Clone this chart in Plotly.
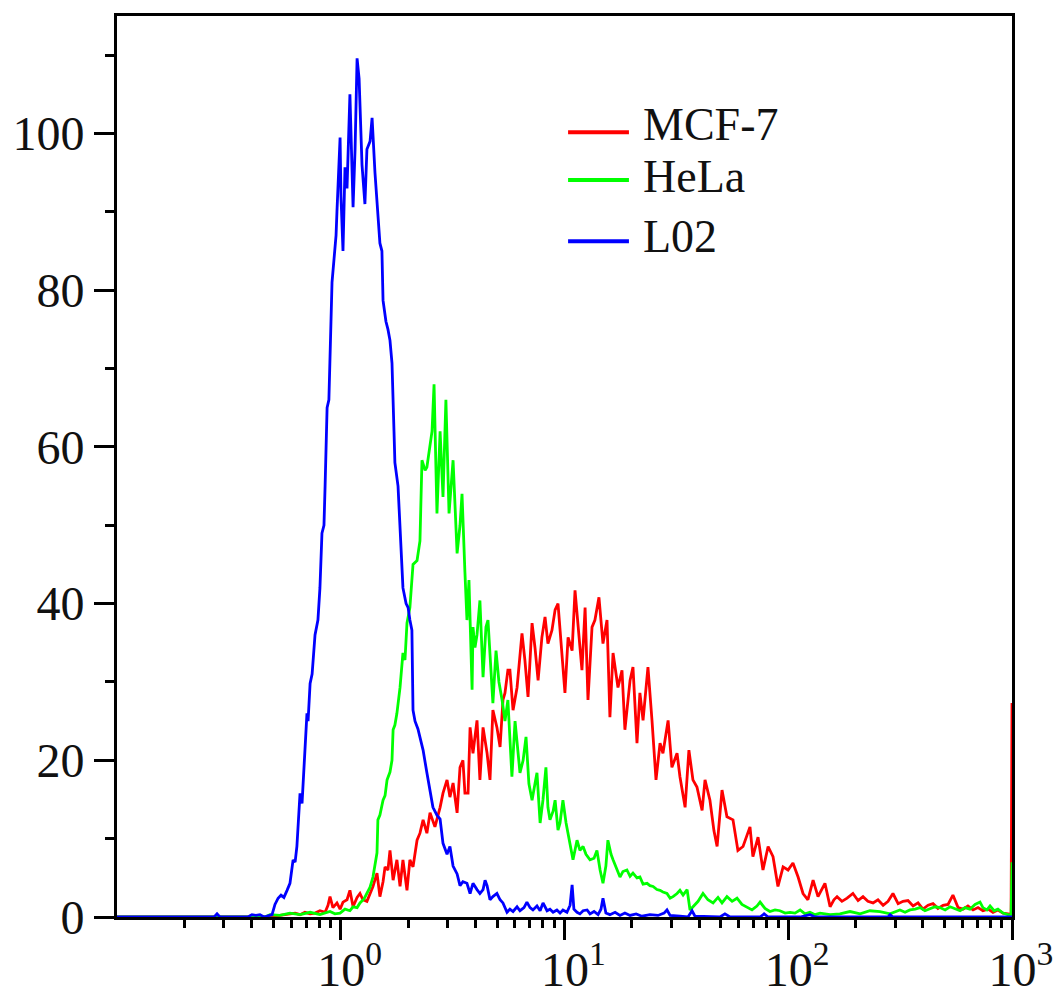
import numpy as np
import plotly.graph_objects as go

# ---------------- data (log10 fluorescence intensity, cell count) ----------------
series_names = ["MCF-7", "HeLa", "L02"]
series_colors = ["#ff0000", "#00ff00", "#0000ff"]

mcf7_logfl = [-1.000, -0.294, -0.272, -0.240, -0.204, -0.182, -0.160, -0.137, -0.115, -0.093,
              -0.070, -0.057, -0.048, -0.035, -0.017, -0.003, 0.010, 0.028, 0.041, 0.055,
              0.073, 0.086, 0.099, 0.117, 0.131, 0.144, 0.162, 0.175, 0.189, 0.198,
              0.211, 0.220, 0.234, 0.251, 0.265, 0.278, 0.296, 0.309, 0.323, 0.341,
              0.354, 0.368, 0.385, 0.399, 0.421, 0.444, 0.457, 0.475, 0.488, 0.502,
              0.520, 0.533, 0.546, 0.555, 0.569, 0.578, 0.591, 0.609, 0.622, 0.636,
              0.654, 0.667, 0.680, 0.698, 0.712, 0.725, 0.734, 0.747, 0.756, 0.770,
              0.788, 0.801, 0.810, 0.823, 0.837, 0.855, 0.868, 0.882, 0.899, 0.913,
              0.926, 0.944, 0.958, 0.971, 0.989, 1.002, 1.016, 1.034, 1.047, 1.060,
              1.078, 1.092, 1.105, 1.123, 1.136, 1.154, 1.172, 1.190, 1.203, 1.217,
              1.239, 1.257, 1.270, 1.293, 1.306, 1.324, 1.337, 1.351, 1.373, 1.391,
              1.409, 1.427, 1.440, 1.463, 1.480, 1.503, 1.516, 1.539, 1.556, 1.574,
              1.592, 1.615, 1.628, 1.650, 1.668, 1.682, 1.704, 1.726, 1.753, 1.775,
              1.798, 1.829, 1.842, 1.865, 1.887, 1.910, 1.932, 1.954, 1.977, 1.999,
              2.021, 2.044, 2.066, 2.088, 2.111, 2.133, 2.151, 2.164, 2.187, 2.204,
              2.218, 2.240, 2.263, 2.289, 2.312, 2.334, 2.356, 2.379, 2.401, 2.424,
              2.446, 2.468, 2.491, 2.513, 2.535, 2.558, 2.580, 2.602, 2.625, 2.647,
              2.669, 2.692, 2.714, 2.736, 2.759, 2.781, 2.803, 2.826, 2.848, 2.870,
              2.893, 2.915, 2.937, 2.960, 2.982, 2.996, 3.000]
mcf7_count = [0, 0, 0.2, 0.3, 0.5, 0.3, 0.6, 0.4, 0.5, 0.8,
              0.6, 1.5, 2.6, 1.2, 1.8, 1.0, 1.9, 2.2, 3.4, 1.3,
              2.5, 3.0, 2.2, 2.0, 3.0, 3.9, 5.6, 2.6, 4.5, 6.4,
              6.0, 8.5, 4.7, 7.3, 3.9, 7.3, 3.4, 7.3, 6.4, 9.8,
              10.7, 12.4, 10.7, 13.3, 11.5, 14, 15.8, 17.5, 15.3, 17.1,
              13.3, 19.1, 20, 15.8, 15.8, 24.2, 20.9, 25.1, 17.5, 24.2,
              20.9, 17.5, 26.4, 24.2, 21.7, 27.7, 28.6, 31.5, 31.5, 26.4,
              29.3, 33, 36.2, 32.8, 28.1, 37.5, 34.4, 30.2, 35.7, 38.3,
              34.9, 36.6, 39.2, 40, 33.7, 28.6, 35.7, 34, 41.7, 37,
              31.5, 39.5, 27.7, 37, 37.9, 40.8, 34.9, 37.9, 25.5, 33.7,
              29.3, 31.5, 23.9, 30.2, 31.9, 22.2, 28.6, 25.1, 31.9, 25.1,
              17.5, 22.2, 20.9, 25.1, 19.1, 20.9, 17.9, 14, 21.3, 17.5,
              16.6, 13.6, 17.5, 14.9, 11, 9, 16.2, 12.8, 12.4, 8.5,
              9, 11.5, 7.7, 10.2, 6, 9, 7.7, 3.9, 6.4, 6,
              6.9, 5.1, 3, 2.2, 4.7, 2.6, 3.5, 4.3, 1.3, 2.2,
              2.6, 2.0, 2.4, 3.0, 2.1, 2.6, 2.0, 1.8, 2.2, 1.5,
              2.0, 3.0, 1.7, 2.0, 2.1, 1.4, 1.8, 1.0, 1.5, 1.7,
              1.1, 1.5, 1.6, 2.8, 1.2, 1.0, 1.4, 0.9, 1.2, 0.8,
              1.0, 0.6, 0.9, 0.5, 0.4, 0.3, 27.3]

hela_logfl = [-1.000, -0.339, -0.316, -0.272, -0.227, -0.182, -0.137, -0.093, -0.048, -0.026,
              -0.003, 0.019, 0.041, 0.055, 0.073, 0.086, 0.104, 0.117, 0.131, 0.144,
              0.153, 0.162, 0.166, 0.175, 0.189, 0.198, 0.207, 0.220, 0.229, 0.234,
              0.242, 0.251, 0.265, 0.278, 0.287, 0.296, 0.309, 0.323, 0.341, 0.354,
              0.363, 0.377, 0.385, 0.399, 0.408, 0.417, 0.430, 0.444, 0.457, 0.470,
              0.484, 0.502, 0.520, 0.533, 0.542, 0.555, 0.564, 0.573, 0.587, 0.591,
              0.600, 0.609, 0.622, 0.636, 0.649, 0.658, 0.667, 0.680, 0.694, 0.707,
              0.721, 0.734, 0.747, 0.765, 0.779, 0.792, 0.801, 0.815, 0.828, 0.841,
              0.855, 0.868, 0.877, 0.891, 0.904, 0.917, 0.926, 0.935, 0.949, 0.958,
              0.971, 0.980, 0.993, 1.007, 1.016, 1.029, 1.038, 1.056, 1.069, 1.083,
              1.096, 1.114, 1.132, 1.145, 1.159, 1.172, 1.185, 1.194, 1.208, 1.217,
              1.235, 1.248, 1.261, 1.279, 1.293, 1.306, 1.324, 1.337, 1.351, 1.369,
              1.382, 1.396, 1.413, 1.427, 1.440, 1.458, 1.472, 1.485, 1.503, 1.516,
              1.530, 1.548, 1.561, 1.579, 1.597, 1.619, 1.641, 1.664, 1.686, 1.704,
              1.726, 1.749, 1.771, 1.793, 1.816, 1.838, 1.860, 1.874, 1.896, 1.918,
              1.941, 1.963, 1.986, 2.008, 2.030, 2.053, 2.075, 2.097, 2.120, 2.142,
              2.187, 2.231, 2.276, 2.321, 2.365, 2.410, 2.455, 2.499, 2.522, 2.544,
              2.567, 2.589, 2.611, 2.634, 2.656, 2.678, 2.701, 2.723, 2.745, 2.768,
              2.790, 2.812, 2.835, 2.857, 2.870, 2.888, 2.902, 2.920, 2.937, 2.960,
              2.982, 2.996, 3.000]
hela_count = [0, 0, 0.3, 0.2, 0.5, 0.3, 0.6, 0.3, 0.7, 0.4,
              0.5, 1.0, 0.8, 1.3, 1.2, 1.8, 2.3, 3.0, 3.8, 5.1,
              6.5, 8.2, 12.4, 13.0, 14.9, 15.5, 17.5, 18.5, 20, 23.9,
              24.5, 26, 29.3, 33.7, 32.8, 37.5, 39.5, 45, 45.5, 48,
              58.3, 57, 57.4, 60.5, 62, 68, 51.5, 62, 53.6, 66,
              51.5, 58.3, 46.4, 50, 54, 44, 37.9, 43, 29, 37,
              34.4, 36, 40.4, 30.6, 37, 37.9, 33, 27.3, 34, 30,
              27.7, 25, 27.7, 17.9, 25, 21, 18.4, 20, 23, 17,
              14.9, 17, 18.4, 12, 15, 19.1, 14, 12.4, 13.5, 14.9,
              11.1, 12, 14.9, 12, 10.7, 9, 7.3, 9.8, 8.5, 9,
              8, 7.3, 7.5, 8.5, 6, 4.3, 6.5, 9.8, 8.0, 7.3,
              6.0, 5.1, 5.8, 6.0, 5.2, 5.6, 5.0, 5.1, 4.2, 4.3,
              4.0, 3.9, 3.5, 3.4, 3.2, 3.0, 2.4, 2.6, 3.0, 3.4,
              2.8, 3.5, 0.9, 1.5, 2.0, 3.0, 2.2, 1.8, 2.5, 1.8,
              2.6, 2.0, 2.4, 1.6, 1.2, 0.9, 1.4, 1.9, 1.1, 0.7,
              0.9, 0.8, 0.5, 0.6, 0.5, 0.9, 0.4, 0.6, 0.3, 0.5,
              0.3, 0.4, 0.7, 0.4, 0.8, 0.7, 0.4, 0.9, 0.6, 0.9,
              1.0, 1.2, 0.8, 1.1, 1.3, 1.2, 0.9, 1.3, 1.1, 0.8,
              1.2, 1.0, 1.6, 1.9, 1.2, 0.9, 1.4, 0.8, 1.0, 0.5,
              0.3, 0.2, 7.0]

l02_logfl = [-1.000, -0.566, -0.553, -0.540, -0.415, -0.397, -0.379, -0.361, -0.343, -0.325,
             -0.307, -0.294, -0.280, -0.267, -0.254, -0.240, -0.227, -0.213, -0.204, -0.196,
             -0.187, -0.182, -0.173, -0.169, -0.160, -0.151, -0.146, -0.137, -0.128, -0.124,
             -0.115, -0.102, -0.093, -0.084, -0.075, -0.070, -0.061, -0.053, -0.048, -0.044,
             -0.039, -0.030, -0.021, -0.017, -0.003, 0.001, 0.010, 0.019, 0.028, 0.041,
             0.050, 0.055, 0.064, 0.073, 0.082, 0.086, 0.095, 0.108, 0.117, 0.131,
             0.140, 0.153, 0.166, 0.175, 0.184, 0.189, 0.202, 0.211, 0.220, 0.229,
             0.238, 0.242, 0.256, 0.265, 0.278, 0.292, 0.301, 0.309, 0.318, 0.323,
             0.332, 0.345, 0.354, 0.368, 0.385, 0.399, 0.412, 0.430, 0.444, 0.457,
             0.475, 0.488, 0.502, 0.520, 0.533, 0.546, 0.564, 0.578, 0.591, 0.609,
             0.622, 0.636, 0.645, 0.654, 0.667, 0.680, 0.698, 0.712, 0.725, 0.743,
             0.756, 0.770, 0.788, 0.801, 0.819, 0.832, 0.846, 0.859, 0.877, 0.891,
             0.904, 0.922, 0.935, 0.949, 0.966, 0.980, 0.993, 1.011, 1.025, 1.034,
             1.042, 1.056, 1.069, 1.083, 1.101, 1.114, 1.132, 1.150, 1.163, 1.172,
             1.185, 1.203, 1.226, 1.248, 1.270, 1.293, 1.320, 1.346, 1.382, 1.418,
             1.445, 1.458, 1.472, 1.516, 1.552, 1.570, 1.583, 1.695, 1.717, 1.740,
             1.874, 1.892, 1.910, 2.053, 2.097, 2.120, 2.446, 2.455, 2.468, 3.000]
l02_count = [0, 0, 0.4, 0, 0, 0.3, 0.2, 0.3, 0, 0.2,
             0.3, 1.6, 2.4, 2.8, 2.5, 3.4, 4.3, 7.3, 7.0, 9.0,
             13.5, 15.8, 14.5, 16.6, 20, 26, 25, 29.8, 31, 32.4,
             36, 37.9, 42, 49, 50, 55, 65, 66, 71, 76,
             81, 84, 87, 90, 99.5, 92, 85, 95.7, 93, 105,
             97, 90.6, 98, 109.6, 107, 104, 96, 91, 98, 99,
             102, 95, 89, 86, 85, 78.7, 76, 75, 73.6, 70.7,
             62, 58, 55, 50, 42, 40, 39.5, 37.9, 36.6, 26.4,
             25, 24, 23, 21.3, 18.4, 16, 14, 13, 12.5, 9.4,
             8, 9, 6.5, 5.5, 4, 4.5, 4.3, 3, 4.3, 3.5,
             3, 3.5, 4.7, 4.0, 2.2, 2.6, 3, 2.2, 1.8, 0.6,
             1.0, 0.7, 1.3, 0.8, 1.2, 1.9, 1.2, 0.9, 1.4, 0.8,
             1.8, 0.8, 1.0, 0.6, 0.9, 0.5, 0.9, 0.6, 1.5, 4.1,
             1.0, 0.6, 0.4, 0.8, 0.9, 0.4, 0.7, 0.3, 1.0, 2.4,
             0.5, 0.3, 0.6, 0.2, 0.5, 0.2, 0.4, 0.1, 0.3, 0.2,
             0.5, 0.9, 0.2, 0.1, 0, 0.8, 0.1, 0, 0.4, 0,
             0, 0.4, 0, 0, 0.3, 0, 0, 0.3, 0, 0]

x_major_ticks = [1, 10, 100, 1000]
x_major_labels = ["10<sup>0</sup>", "10<sup>1</sup>", "10<sup>2</sup>", "10<sup>3</sup>"]
x_minor_ticks = [m * d for d in (0.1, 1, 10, 100) for m in range(2, 10)]
y_major_ticks = [0, 20, 40, 60, 80, 100]
y_minor_ticks = [10, 30, 50, 70, 90, 110]

# ---------------- figure ----------------
FONT = "Liberation Serif, Times New Roman, serif"
fig = go.Figure()

all_x = [mcf7_logfl, hela_logfl, l02_logfl]
all_y = [mcf7_count, hela_count, l02_count]
for name, color, lx, yy in zip(series_names, series_colors, all_x, all_y):
    fig.add_trace(go.Scatter(
        x=np.power(10.0, np.array(lx)), y=yy, mode="lines", name=name,
        line=dict(color=color, width=2.8), showlegend=False,
    ))

# manual legend (long line samples like the original)
legend_y_line = [0.871, 0.818, 0.750]
legend_y_text = [0.880, 0.822, 0.755]
for name, color, yl, yt in zip(series_names, series_colors, legend_y_line, legend_y_text):
    fig.add_shape(type="line", xref="paper", yref="paper",
                  x0=0.504, x1=0.572, y0=yl, y1=yl,
                  line=dict(color=color, width=4))
    fig.add_annotation(xref="paper", yref="paper", x=0.586, y=yt,
                       text=name, showarrow=False, xanchor="left", yanchor="middle",
                       font=dict(family=FONT, size=46, color="#111"))

fig.update_layout(
    width=1063, height=992,
    margin=dict(l=117, r=51, t=16, b=75),
    paper_bgcolor="white", plot_bgcolor="white",
    showlegend=False,
)
fig.update_xaxes(
    type="log", range=[-1, 3], automargin=False,
    tickmode="array", tickvals=x_major_ticks, ticktext=x_major_labels,
    ticks="outside", ticklen=20, tickwidth=3, tickcolor="black",
    showline=True, linewidth=3, linecolor="black", mirror=True,
    showgrid=False, zeroline=False,
    tickfont=dict(family=FONT, size=48, color="#111"),
    ticklabelshift=9, ticklabelstandoff=-12,
    minor=dict(tickmode="array", tickvals=x_minor_ticks, ticks="outside",
               ticklen=8, tickwidth=3, tickcolor="black", showgrid=False),
)
fig.update_yaxes(
    range=[0, 115], automargin=False,
    tickmode="array", tickvals=y_major_ticks,
    ticks="outside", ticklen=20, tickwidth=3, tickcolor="black",
    showline=True, linewidth=3, linecolor="black", mirror=True,
    showgrid=False, zeroline=False,
    tickfont=dict(family=FONT, size=48, color="#111"),
    minor=dict(tickmode="array", tickvals=y_minor_ticks, ticks="outside",
               ticklen=9, tickwidth=3, tickcolor="black", showgrid=False),
)

fig.write_html("out.html",
               config={"displayModeBar": False},
               post_script="document.body.style.margin='0';document.body.style.overflow='hidden';")
